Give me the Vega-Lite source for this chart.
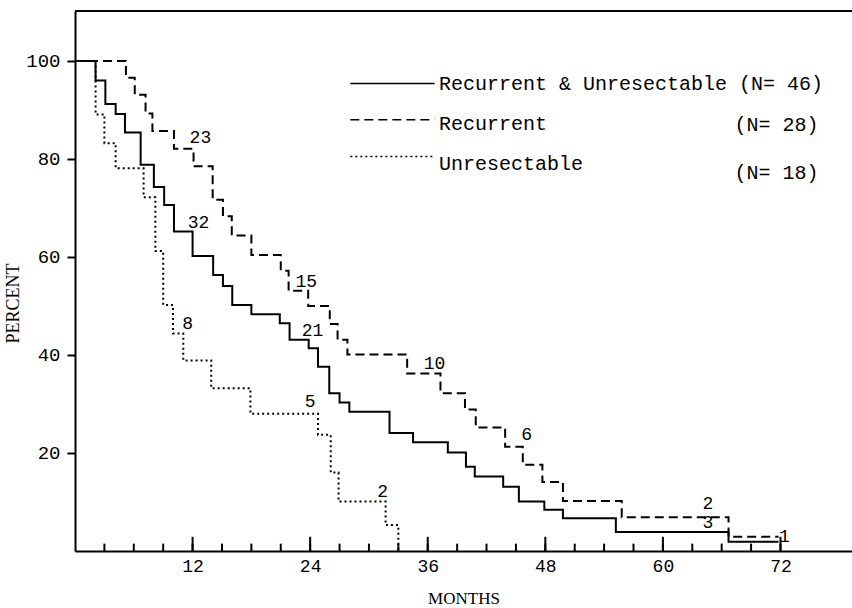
{
  "$schema": "https://vega.github.io/schema/vega-lite/v6.json",
  "width": 777,
  "height": 540,
  "autosize": "none",
  "padding": {"left": 75, "top": 11, "right": 0, "bottom": 57},
  "background": "white",
  "config": {"view": {"stroke": null}, "font": "Liberation Mono"},
  "datasets": {
    "curves": [
      {"series": "Recurrent & Unresectable", "month": 0, "pct": 100},
      {"series": "Recurrent & Unresectable", "month": 2.1, "pct": 96},
      {"series": "Recurrent & Unresectable", "month": 3.1, "pct": 91.2},
      {"series": "Recurrent & Unresectable", "month": 4.15, "pct": 89.2},
      {"series": "Recurrent & Unresectable", "month": 5.1, "pct": 85.4},
      {"series": "Recurrent & Unresectable", "month": 6.7, "pct": 78.8},
      {"series": "Recurrent & Unresectable", "month": 8.05, "pct": 74.3},
      {"series": "Recurrent & Unresectable", "month": 9.1, "pct": 70.6},
      {"series": "Recurrent & Unresectable", "month": 10.1, "pct": 65.2},
      {"series": "Recurrent & Unresectable", "month": 12.0, "pct": 60.2},
      {"series": "Recurrent & Unresectable", "month": 14.1, "pct": 56.3},
      {"series": "Recurrent & Unresectable", "month": 15.1, "pct": 54.1},
      {"series": "Recurrent & Unresectable", "month": 16.05, "pct": 50.2},
      {"series": "Recurrent & Unresectable", "month": 18.0, "pct": 48.3},
      {"series": "Recurrent & Unresectable", "month": 20.9, "pct": 46.5},
      {"series": "Recurrent & Unresectable", "month": 21.9, "pct": 43.1},
      {"series": "Recurrent & Unresectable", "month": 23.85, "pct": 41.4},
      {"series": "Recurrent & Unresectable", "month": 24.8, "pct": 37.6},
      {"series": "Recurrent & Unresectable", "month": 25.95, "pct": 32.2},
      {"series": "Recurrent & Unresectable", "month": 27.0, "pct": 30.3},
      {"series": "Recurrent & Unresectable", "month": 28.0, "pct": 28.4},
      {"series": "Recurrent & Unresectable", "month": 32.1, "pct": 24.1},
      {"series": "Recurrent & Unresectable", "month": 34.5, "pct": 22.2},
      {"series": "Recurrent & Unresectable", "month": 38.05, "pct": 20.1},
      {"series": "Recurrent & Unresectable", "month": 39.9, "pct": 17.2},
      {"series": "Recurrent & Unresectable", "month": 40.8, "pct": 15.2},
      {"series": "Recurrent & Unresectable", "month": 43.7, "pct": 13.1},
      {"series": "Recurrent & Unresectable", "month": 45.3, "pct": 10.1},
      {"series": "Recurrent & Unresectable", "month": 47.9, "pct": 8.4},
      {"series": "Recurrent & Unresectable", "month": 49.8, "pct": 6.7},
      {"series": "Recurrent & Unresectable", "month": 55.2, "pct": 3.9},
      {"series": "Recurrent & Unresectable", "month": 66.7, "pct": 1.9},
      {"series": "Recurrent & Unresectable", "month": 71.8, "pct": 1.9},
      {"series": "Recurrent", "month": 0, "pct": 100},
      {"series": "Recurrent", "month": 5.2, "pct": 96.6},
      {"series": "Recurrent", "month": 6.1, "pct": 93.1},
      {"series": "Recurrent", "month": 7.2, "pct": 89.3},
      {"series": "Recurrent", "month": 7.9, "pct": 85.7},
      {"series": "Recurrent", "month": 10.1, "pct": 82.1},
      {"series": "Recurrent", "month": 12.1, "pct": 78.5},
      {"series": "Recurrent", "month": 14.05, "pct": 71.7},
      {"series": "Recurrent", "month": 15.1, "pct": 68.3},
      {"series": "Recurrent", "month": 16.0, "pct": 64.4},
      {"series": "Recurrent", "month": 18.0, "pct": 60.4},
      {"series": "Recurrent", "month": 21.0, "pct": 57.2},
      {"series": "Recurrent", "month": 21.8, "pct": 53.1},
      {"series": "Recurrent", "month": 23.8, "pct": 50.0},
      {"series": "Recurrent", "month": 26.0, "pct": 46.3},
      {"series": "Recurrent", "month": 26.8, "pct": 43.1},
      {"series": "Recurrent", "month": 27.8, "pct": 40.1},
      {"series": "Recurrent", "month": 33.9, "pct": 36.2},
      {"series": "Recurrent", "month": 37.3, "pct": 32.2},
      {"series": "Recurrent", "month": 39.8, "pct": 28.9},
      {"series": "Recurrent", "month": 40.9, "pct": 25.2},
      {"series": "Recurrent", "month": 43.9, "pct": 21.3},
      {"series": "Recurrent", "month": 45.7, "pct": 17.6},
      {"series": "Recurrent", "month": 47.7, "pct": 14.1},
      {"series": "Recurrent", "month": 49.8, "pct": 10.2},
      {"series": "Recurrent", "month": 55.8, "pct": 6.9},
      {"series": "Recurrent", "month": 66.7, "pct": 2.9},
      {"series": "Recurrent", "month": 71.8, "pct": 2.9},
      {"series": "Unresectable", "month": 0, "pct": 100},
      {"series": "Unresectable", "month": 2.1, "pct": 89.1},
      {"series": "Unresectable", "month": 3.0, "pct": 83.2},
      {"series": "Unresectable", "month": 4.15, "pct": 78.1},
      {"series": "Unresectable", "month": 7.0, "pct": 72.2},
      {"series": "Unresectable", "month": 8.2, "pct": 61.2},
      {"series": "Unresectable", "month": 9.0, "pct": 50.2},
      {"series": "Unresectable", "month": 10.0, "pct": 44.4},
      {"series": "Unresectable", "month": 11.05, "pct": 38.9},
      {"series": "Unresectable", "month": 13.9, "pct": 33.2},
      {"series": "Unresectable", "month": 17.9, "pct": 28.0},
      {"series": "Unresectable", "month": 24.8, "pct": 23.7},
      {"series": "Unresectable", "month": 26.1, "pct": 16.0},
      {"series": "Unresectable", "month": 26.9, "pct": 10.1},
      {"series": "Unresectable", "month": 31.7, "pct": 5.3},
      {"series": "Unresectable", "month": 33.0, "pct": 0}
    ],
    "risk": [
      {"label": "23", "month": 12.8, "pct": 84.3},
      {"label": "32", "month": 12.6, "pct": 66.9},
      {"label": "8", "month": 11.5, "pct": 46.3},
      {"label": "15", "month": 23.6, "pct": 54.8},
      {"label": "21", "month": 24.25, "pct": 44.9},
      {"label": "5", "month": 24.0, "pct": 30.5},
      {"label": "10", "month": 36.7, "pct": 38.2},
      {"label": "2", "month": 31.4, "pct": 12.1},
      {"label": "6", "month": 46.1, "pct": 23.7},
      {"label": "2", "month": 64.6, "pct": 9.6},
      {"label": "3", "month": 64.6, "pct": 5.8},
      {"label": "1", "month": 72.4, "pct": 2.9}
    ],
    "ticks": [
      {"month": 3}, {"month": 6}, {"month": 9}, {"month": 12}, {"month": 15}, {"month": 18},
      {"month": 21}, {"month": 24}, {"month": 27}, {"month": 30}, {"month": 33}, {"month": 36},
      {"month": 39}, {"month": 42}, {"month": 45}, {"month": 48}, {"month": 51}, {"month": 54},
      {"month": 57}, {"month": 60}, {"month": 63}, {"month": 66}, {"month": 69}, {"month": 72}
    ],
    "legend": [
      {"series": "Recurrent & Unresectable", "name": "Recurrent & Unresectable", "n": "(N= 46)"},
      {"series": "Recurrent", "name": "Recurrent", "n": "(N= 28)"},
      {"series": "Unresectable", "name": "Unresectable", "n": "(N= 18)"}
    ]
  },
  "layer": [
    {
      "data": {"name": "curves"},
      "mark": {"type": "line", "interpolate": "step-after", "strokeWidth": 2, "color": "black"},
      "encoding": {
        "x": {
          "field": "month", "type": "quantitative",
          "scale": {"domain": [0, 79.3], "nice": false, "zero": false},
          "axis": {
            "values": [12, 24, 36, 48, 60, 72], "tickSize": 0, "labelPadding": 6, "grid": false,
            "domainWidth": 2, "domainColor": "black", "labelColor": "black",
            "labelFont": "Liberation Mono", "labelFontSize": 18,
            "title": "MONTHS", "titleFont": "Liberation Serif", "titleFontSize": 17,
            "titleFontWeight": "normal", "titleColor": "black", "titlePadding": 15
          }
        },
        "y": {
          "field": "pct", "type": "quantitative",
          "scale": {"domain": [0, 110.2], "nice": false},
          "axis": {
            "values": [20, 40, 60, 80, 100], "tickSize": 8, "tickWidth": 2, "tickColor": "black",
            "labelPadding": 7, "grid": false, "domainWidth": 2, "domainColor": "black",
            "labelColor": "black", "labelFont": "Liberation Mono", "labelFontSize": 19,
            "title": "PERCENT", "titleFont": "Liberation Serif", "titleFontSize": 18,
            "titleFontWeight": "normal", "titleColor": "black", "titlePadding": 3, "titleY": 292
          }
        },
        "detail": {"field": "series"},
        "strokeDash": {
          "field": "series", "type": "nominal",
          "scale": {"domain": ["Recurrent & Unresectable", "Recurrent", "Unresectable"], "range": [[1, 0], [9, 5], [2, 3]]},
          "legend": null
        }
      }
    },
    {
      "data": {"values": [{"edge": "top"}]},
      "mark": {"type": "rule", "strokeWidth": 2, "color": "black"},
      "encoding": {"y": {"datum": 110.2, "type": "quantitative"}}
    },
    {
      "data": {"name": "ticks"},
      "mark": {"type": "rule", "strokeWidth": 2, "color": "black"},
      "encoding": {
        "x": {"field": "month", "type": "quantitative"},
        "y": {"datum": 0, "type": "quantitative"},
        "y2": {"datum": 1.5}
      }
    },
    {
      "data": {"name": "ticks"},
      "transform": [{"filter": "datum.month % 12 == 0"}],
      "mark": {"type": "rule", "strokeWidth": 2, "color": "black"},
      "encoding": {
        "x": {"field": "month", "type": "quantitative"},
        "y": {"datum": 0, "type": "quantitative"},
        "y2": {"datum": 2.9}
      }
    },
    {
      "data": {"name": "risk"},
      "mark": {"type": "text", "font": "Liberation Mono", "fontSize": 18, "color": "black", "align": "center", "baseline": "middle"},
      "encoding": {
        "x": {"field": "month", "type": "quantitative"},
        "y": {"field": "pct", "type": "quantitative"},
        "text": {"field": "label"}
      }
    },
    {
      "data": {"name": "legend"},
      "transform": [{"filter": "datum.series == 'Recurrent & Unresectable'"}],
      "mark": {"type": "rule", "strokeWidth": 1.5, "color": "black"},
      "encoding": {"x": {"datum": 28.1, "type": "quantitative"}, "x2": {"datum": 36.7}, "y": {"datum": 95.4, "type": "quantitative"}}
    },
    {
      "data": {"name": "legend"},
      "transform": [{"filter": "datum.series == 'Recurrent'"}],
      "mark": {"type": "rule", "strokeWidth": 1.5, "color": "black", "strokeDash": [9, 5]},
      "encoding": {"x": {"datum": 28.1, "type": "quantitative"}, "x2": {"datum": 36.7}, "y": {"datum": 88.0, "type": "quantitative"}}
    },
    {
      "data": {"name": "legend"},
      "transform": [{"filter": "datum.series == 'Unresectable'"}],
      "mark": {"type": "rule", "strokeWidth": 1.5, "color": "black", "strokeDash": [2, 3]},
      "encoding": {"x": {"datum": 28.1, "type": "quantitative"}, "x2": {"datum": 36.7}, "y": {"datum": 80.5, "type": "quantitative"}}
    },
    {
      "data": {"name": "legend"},
      "transform": [{"filter": "datum.series == 'Recurrent & Unresectable'"}],
      "mark": {"type": "text", "font": "Liberation Mono", "fontSize": 20, "color": "black", "align": "left", "baseline": "middle"},
      "encoding": {"x": {"datum": 37.15, "type": "quantitative"}, "y": {"datum": 95.4, "type": "quantitative"}, "text": {"value": "Recurrent & Unresectable (N= 46)"}}
    },
    {
      "data": {"name": "legend"},
      "transform": [{"filter": "datum.series == 'Recurrent'"}],
      "mark": {"type": "text", "font": "Liberation Mono", "fontSize": 20, "color": "black", "align": "left", "baseline": "middle"},
      "encoding": {"x": {"datum": 37.15, "type": "quantitative"}, "y": {"datum": 87.2, "type": "quantitative"}, "text": {"field": "name"}}
    },
    {
      "data": {"name": "legend"},
      "transform": [{"filter": "datum.series == 'Recurrent'"}],
      "mark": {"type": "text", "font": "Liberation Mono", "fontSize": 20, "color": "black", "align": "left", "baseline": "middle"},
      "encoding": {"x": {"datum": 67.3, "type": "quantitative"}, "y": {"datum": 86.9, "type": "quantitative"}, "text": {"field": "n"}}
    },
    {
      "data": {"name": "legend"},
      "transform": [{"filter": "datum.series == 'Unresectable'"}],
      "mark": {"type": "text", "font": "Liberation Mono", "fontSize": 20, "color": "black", "align": "left", "baseline": "middle"},
      "encoding": {"x": {"datum": 37.15, "type": "quantitative"}, "y": {"datum": 79.0, "type": "quantitative"}, "text": {"field": "name"}}
    },
    {
      "data": {"name": "legend"},
      "transform": [{"filter": "datum.series == 'Unresectable'"}],
      "mark": {"type": "text", "font": "Liberation Mono", "fontSize": 20, "color": "black", "align": "left", "baseline": "middle"},
      "encoding": {"x": {"datum": 67.3, "type": "quantitative"}, "y": {"datum": 77.1, "type": "quantitative"}, "text": {"field": "n"}}
    }
  ]
}
